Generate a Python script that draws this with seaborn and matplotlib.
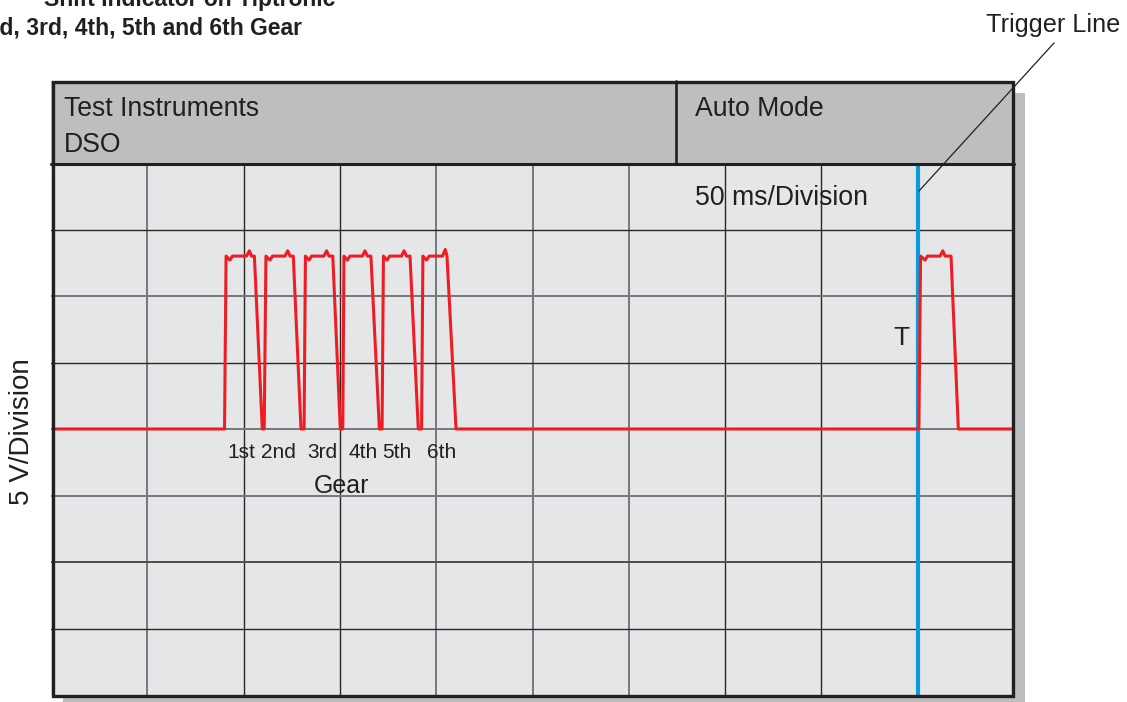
import matplotlib
matplotlib.use("Agg")
import matplotlib.pyplot as plt
from matplotlib.patches import Rectangle
from matplotlib.lines import Line2D
import pandas as pd
import seaborn as sns

# ---- signal data (time in ms, level in volts) ----
time_ms = [
    1.0,
    90.1, 90.9, 92.9, 94.2, 101.5, 103.0, 104.1, 105.6, 109.7,
    110.7, 111.6, 113.7, 115.0, 121.5, 122.9, 124.1, 125.8, 129.8,
    131.4, 132.1, 134.0, 135.3, 141.7, 143.1, 144.3, 146.3, 150.2,
    151.5, 152.1, 153.9, 155.2, 161.7, 163.0, 164.3, 166.1, 170.5,
    171.9, 172.6, 174.5, 175.8, 182.0, 183.3, 184.6, 186.4, 190.7,
    192.4, 193.1, 195.0, 196.3, 203.3, 204.7, 205.6, 210.3,
    450.6, 451.5, 453.8, 455.1, 461.6, 463.0, 464.2, 467.3, 471.1,
    499.0,
]
signal_v = [
    0.0,
    0.0, 13.0, 12.7, 13.0, 13.0, 13.4, 13.0, 13.0, 0.0,
    0.0, 13.0, 12.7, 13.0, 13.0, 13.4, 13.0, 13.0, 0.0,
    0.0, 13.0, 12.7, 13.0, 13.0, 13.4, 13.0, 13.0, 0.0,
    0.0, 13.0, 12.7, 13.0, 13.0, 13.4, 13.0, 13.0, 0.0,
    0.0, 13.0, 12.7, 13.0, 13.0, 13.4, 13.0, 13.0, 0.0,
    0.0, 13.0, 12.7, 13.0, 13.0, 13.5, 13.0, 0.0,
    0.0, 13.0, 12.7, 13.0, 13.0, 13.4, 13.0, 13.0, 0.0,
    0.0,
]
trigger_ms = 450.0

gear_labels = ["1st", "2nd", "3rd", "4th", "5th", "6th"]
gear_label_ms = [98.6, 117.9, 140.7, 162.0, 179.6, 203.0]

ms_per_div = 50
v_per_div = 5
n_xdiv, n_ydiv = 10, 8

# ---- style ----
sns.set_theme(style="white")
plt.rcParams["font.family"] = ["Liberation Sans", "DejaVu Sans"]
INK = "#231f20"
SCREEN = "#e5e6e7"
HEADER = "#bcbec0"
SHADOW = "#bcbec0"
RED = "#ee1d24"
BLUE = "#0a9bd8"
GRID_DARK = "#2b2829"
GRID_GREY = "#77787b"

W, H = 1127, 702
fig = plt.figure(figsize=(W / 100, H / 100), dpi=100)
fig.patch.set_facecolor("white")


def fx(px):
    return px / W


def fy(py):
    return 1 - py / H


# drop shadow behind the scope panel
fig.add_artist(Rectangle((fx(63), fy(710)), (1025 - 63) / W, (710 - 93) / H,
                         transform=fig.transFigure, facecolor=SHADOW,
                         edgecolor="none", zorder=-2))

# ---- screen grid ----
ax = fig.add_axes([fx(51), fy(695), (1014 - 51) / W, (695 - 163) / H])
ax.set_facecolor(SCREEN)
ax.set_xlim(0, n_xdiv * ms_per_div)
ax.set_ylim(-n_ydiv / 2 * v_per_div, n_ydiv / 2 * v_per_div)
for s in ax.spines.values():
    s.set_visible(False)
ax.set_xticks([])
ax.set_yticks([])

v_shades = [GRID_GREY, GRID_DARK, GRID_DARK, GRID_GREY, GRID_GREY,
            GRID_GREY, GRID_DARK, GRID_DARK, GRID_DARK]
for i, c in enumerate(v_shades, start=1):
    ax.axvline(i * ms_per_div, color=c,
               lw=1.0 if c == GRID_DARK else 1.4, zorder=1)
h_shades = [GRID_DARK, GRID_GREY, GRID_DARK, GRID_GREY, GRID_GREY,
            "#4d4b4c", GRID_DARK]
for i, c in enumerate(h_shades, start=1):
    ax.axhline(n_ydiv / 2 * v_per_div - i * v_per_div, color=c,
               lw=1.0 if c == GRID_DARK else 1.4, zorder=1)

# trigger line
ax.axvline(trigger_ms, color=BLUE, lw=3.0, zorder=2)

# waveform
df = pd.DataFrame({"t": time_ms, "v": signal_v})
sns.lineplot(data=df, x="t", y="v", ax=ax, color=RED, lw=2.2,
             estimator=None, sort=False, zorder=3)
ax.set_xlabel("")
ax.set_ylabel("")

for lab, t in zip(gear_labels, gear_label_ms):
    ax.text(t, -2.2, lab, ha="center", va="baseline", fontsize=15,
            color=INK, zorder=4)
ax.text(150.6, -4.8, "Gear", ha="center", va="baseline", fontsize=18,
        color=INK, zorder=4)

# ---- header strip ----
hx = fig.add_axes([fx(51), fy(163), (1014 - 51) / W, (163 - 81) / H])
hx.set_facecolor(HEADER)
hx.set_xticks([])
hx.set_yticks([])
for s in hx.spines.values():
    s.set_visible(False)

lw_frame = 2.4
fig.add_artist(Line2D([fx(676), fx(676)], [fy(81), fy(163)],
                      transform=fig.transFigure, color=INK, lw=1.9, zorder=6))
fig.add_artist(Line2D([fx(51), fx(1014)], [fy(163.5), fy(163.5)],
                      transform=fig.transFigure, color=INK, lw=2.2, zorder=6))
# outer frame
fig.add_artist(Rectangle((fx(52.5), fy(695.5)), (1013 - 52.5) / W,
                         (695.5 - 82) / H, transform=fig.transFigure,
                         facecolor="none", edgecolor=INK, lw=lw_frame,
                         zorder=6))

# ---- texts ----
def ftext(px, py, s, **kw):
    kw.setdefault("color", INK)
    kw.setdefault("va", "baseline")
    fig.text(fx(px), fy(py), s, **kw)


ftext(64, 116, "Test Instruments", fontsize=19.2)
ftext(64, 152, "DSO", fontsize=19.2)
ftext(695, 116, "Auto Mode", fontsize=19.2)
ftext(695, 205, "50 ms/Division", fontsize=19.2, zorder=7)
ftext(893, 345, "T", fontsize=19)
ftext(986, 32, "Trigger Line", fontsize=18.2)
ftext(22, 432, "5 V/Division", fontsize=20, rotation=90, va="center",
      ha="center")

ftext(335, 6, "Shift Indicator on Tiptronic", fontsize=16.5,
      fontweight="bold", ha="right")
ftext(302, 35, "1st, 2nd, 3rd, 4th, 5th and 6th Gear", fontsize=16.5,
      fontweight="bold", ha="right")

# leader from label to trigger line
fig.add_artist(Line2D([fx(1054), fx(919)], [fy(43), fy(191)],
                      transform=fig.transFigure, color=INK, lw=0.9, zorder=8))

fig.savefig("out.png", dpi=100)
